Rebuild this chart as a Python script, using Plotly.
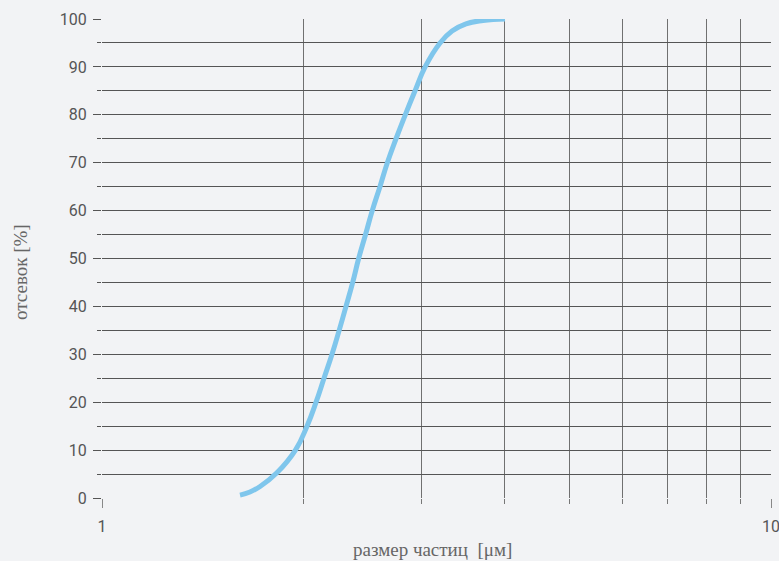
import plotly.graph_objects as go

size_um = [1.608, 1.664, 1.723, 1.824, 1.946, 2.025, 2.089, 2.147, 2.207, 2.262, 2.316, 2.370, 2.419,
           2.477, 2.535, 2.603, 2.670, 2.751, 2.840, 2.937, 3.041, 3.201, 3.336, 3.500, 3.712, 4.003]
passing = [0.6, 1.25, 2.4, 5.2, 10.0, 15.0, 20.0, 25.0, 30.0, 35.0, 40.0, 45.0, 50.0,
           55.0, 60.0, 65.0, 70.0, 75.0, 80.0, 85.0, 90.0, 95.0, 97.5, 99.0, 99.7, 100.0]

x_major = [1, 10]
x_major_text = ["1", "10"]
x_minor = [2, 3, 4, 5, 6, 7, 8, 9]

x_title = "размер частиц\u00a0 [μм]"
y_title = "отсевок [%]"

bg = "#f2f3f5"
fig = go.Figure()
fig.add_trace(go.Scatter(x=size_um, y=passing, mode="lines",
                         line=dict(color="#7fc6ec", width=5, shape="spline", smoothing=1.3),
                         hoverinfo="skip"))

fig.update_layout(
    width=779, height=561,
    margin=dict(l=102, r=8, t=19, b=63, autoexpand=False),
    paper_bgcolor=bg, plot_bgcolor=bg,
    showlegend=False,
    font=dict(family="Roboto", color="#555555", size=16),
    annotations=[
        dict(text=x_title, xref="paper", yref="paper", x=0.4933, y=-0.1065,
             xanchor="center", yanchor="middle", showarrow=False,
             font=dict(family="Liberation Serif", size=19, color="#666666")),
        dict(text=y_title, xref="paper", yref="paper", x=-0.1226, y=0.4718,
             xanchor="center", yanchor="middle", showarrow=False, textangle=-90,
             font=dict(family="Liberation Serif", size=19, color="#666666")),
    ],
)
fig.update_xaxes(
    type="log", range=[0, 1], automargin=False,
    tickmode="array", tickvals=x_major, ticktext=x_major_text,
    ticks="outside", ticklen=9, tickcolor="#888888", tickwidth=1,
    ticklabelstandoff=5, ticklabeloverflow="allow",
    showgrid=True, gridcolor="#777777", gridwidth=1,
    minor=dict(tickmode="array", tickvals=x_minor, ticks="outside", ticklen=5,
               tickcolor="#777777", showgrid=True, gridcolor="#707070", gridwidth=1),
    showline=False, zeroline=False,
    tickfont=dict(family="Roboto", size=16, color="#555555"),
)
fig.update_yaxes(
    range=[0, 100], tickmode="linear", tick0=0, dtick=10, automargin=False,
    ticks="outside", ticklen=8, tickcolor="#555555", ticklabelstandoff=3,
    showgrid=True, gridcolor="#555555", gridwidth=1,
    minor=dict(dtick=5, ticks="outside", ticklen=4, tickcolor="#555555",
               showgrid=True, gridcolor="#555555", gridwidth=1),
    showline=False, zeroline=False,
    tickfont=dict(family="Roboto", size=16, color="#555555"),
)
fig.write_html("out.html", config={"displayModeBar": False},
               post_script="document.body.style.margin='0';document.body.style.background='#f2f3f5';")
